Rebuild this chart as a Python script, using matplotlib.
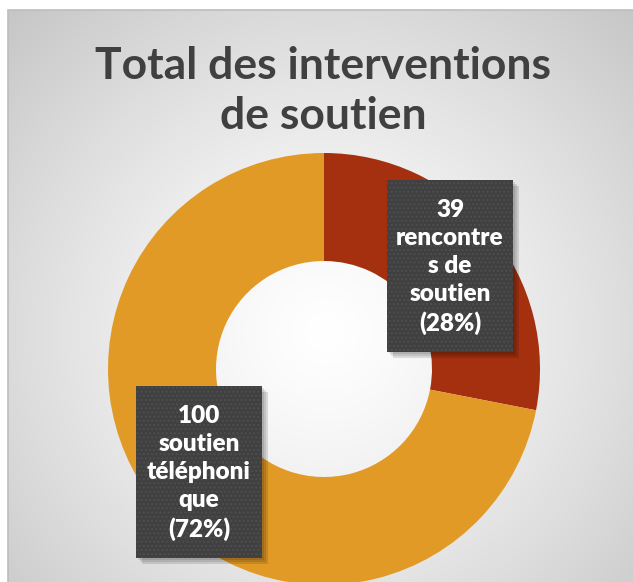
import numpy as np
import matplotlib.pyplot as plt
from matplotlib.patches import Rectangle

# data
categories = ['rencontres de soutien', 'soutien téléphonique']
values = [39, 100]
colors = ['#A5300F', '#E29A27']
title = 'Total des interventions\nde soutien'


def wrap_label(text, width=9):
    # break like the office chart does: long words cut, short pieces joined
    pieces = []
    for word in text.split():
        pieces += [word[i:i + width] for i in range(0, len(word), width)]
    lines = []
    for p in pieces:
        if lines and len(lines[-1]) + 1 + len(p) <= width:
            lines[-1] += ' ' + p
        else:
            lines.append(p)
    return lines


W, H = 633, 582
fig = plt.figure(figsize=(W / 100, H / 100), dpi=100)
ax = fig.add_axes([0, 0, 1, 1])

# radial grey background of the chart area
x0, x1, y0, y1 = 8, W, 0, H - 10
xx, yy = np.meshgrid(np.linspace(x0, x1, 400), np.linspace(y0, y1, 400))
d = np.hypot(xx - 325, yy - 250) / 445.0
v = 1 - 0.22 * np.clip(d, 0, 1.2) ** 1.3
bg = np.dstack([v, v, v])
ax.imshow(bg, extent=(x0, x1, y0, y1), origin='lower', zorder=0, aspect='auto',
          interpolation='bilinear')
ax.add_patch(Rectangle((x0, y0 - 5), x1 - x0 + 5, y1 - y0 + 5, fill=False,
                       edgecolor='#bdbdbd', lw=1.2, zorder=1))

# donut
cx, cy, R = 324, 213, 216
wedges, _ = ax.pie(values, colors=colors, startangle=90, counterclock=False,
                   center=(cx, cy), radius=R,
                   wedgeprops=dict(width=R * 0.5, linewidth=0))
for w in wedges:
    w.set_zorder(2)

ax.set_xlim(0, W)
ax.set_ylim(0, H)
ax.set_aspect('auto')
ax.axis('off')

ax.text(323, H - 91, title, ha='center', va='center', fontsize=32,
        fontweight='bold', family='Lato', color='#404040', linespacing=1.32, zorder=5)

# data labels in dark dotted boxes
total = sum(values)
box_centers = [(450, H - 266), (199, H - 472)]
bw, bh = 126, 172
plt.rcParams['hatch.linewidth'] = 1.0
for cat, val, (bx, by) in zip(categories, values, box_centers):
    for k, a in enumerate([0.10, 0.10, 0.12]):
        off = 2 + 2 * k
        ax.add_patch(Rectangle((bx - bw / 2 + off, by - bh / 2 - off), bw, bh,
                               facecolor='black', alpha=a, lw=0, zorder=3))
    ax.add_patch(Rectangle((bx - bw / 2, by - bh / 2), bw, bh, facecolor='#404040',
                           edgecolor='#4e4e4e', hatch='....', lw=0, zorder=4))
    lines = [str(val)] + wrap_label(cat) + ['({:.0f}%)'.format(100 * val / total)]
    ax.text(bx, by - 1, '\n'.join(lines), ha='center', va='center', fontsize=17.5,
            fontweight='heavy', family='Lato', color='white', linespacing=1.34, zorder=5)

fig.savefig('out.png', dpi=100)
